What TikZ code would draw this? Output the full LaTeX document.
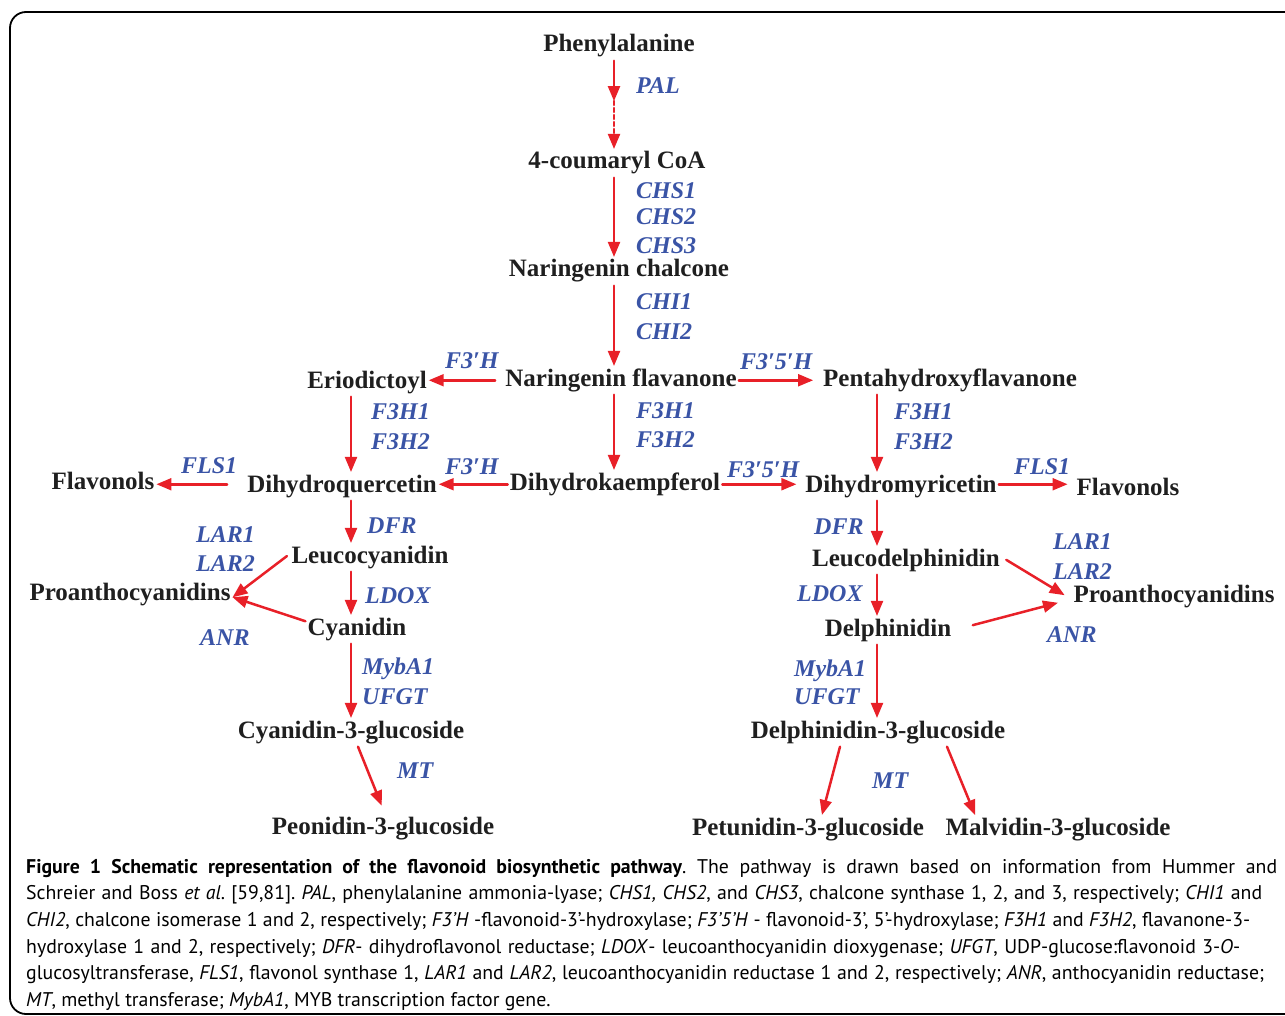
\documentclass[tikz,border=0pt]{standalone}
\usepackage{fontspec}
\setmainfont{Liberation Serif}
\newfontfamily\capfont{PT Sans}
\usepackage{tikz}
\usetikzlibrary{arrows}
\definecolor{pathred}{RGB}{232,32,40}
\definecolor{geneblue}{RGB}{58,84,166}

\begin{document}
\frenchspacing
\begin{tikzpicture}[line cap=round,line join=round,>=triangle 45,x=1pt,y=-1pt,
  compound/.style={anchor=base,inner xsep=2pt,inner ysep=3pt,text height=17pt,text depth=5.5pt,font=\fontsize{25}{30}\selectfont\bfseries,text=black!88},
  gene/.style={anchor=base west,inner sep=0pt,font=\fontsize{24}{28}\selectfont\bfseries\itshape,text=geneblue},
  flux/.style={->,draw=pathred,line width=2.5pt},
  legend/.style={anchor=north west,inner sep=0pt,align=left,font=\capfont\fontsize{19.8}{26.6}\selectfont}]
\clip (0,0) rectangle (1285,1016);
\useasboundingbox (0,0) rectangle (1285,1016);
\draw [line width=1.8pt,rounded corners=16pt] (10,12) rectangle (1320,1014);
% columns of the vertical arrows
\coordinate (colL) at (351,0);
\coordinate (colM) at (614,0);
\coordinate (colR) at (877,0);
\coordinate (pal1) at (614,101);
% compounds
\node[compound] (phe) at (619,52) {Phenylalanine};
\node[compound] (coa) at (617,169) {4-coumaryl CoA};
\node[compound] (chal) at (619,277) {Naringenin chalcone};
\node[compound] (nf) at (621,386) {Naringenin flavanone};
\node[compound] (erio) at (367,388) {Eriodictoyl};
\node[compound] (penta) at (950,386) {Pentahydroxyflavanone};
\node[compound] (dhq) at (342,492) {Dihydroquercetin};
\node[compound] (dhk) at (615,490) {Dihydrokaempferol};
\node[compound] (dhm) at (901,492) {Dihydromyricetin};
\node[compound] (flavL) at (103,489) {Flavonols};
\node[compound] (flavR) at (1128,495) {Flavonols};
\node[compound] (leucy) at (370,563) {Leucocyanidin};
\node[compound] (cyan) at (357,635) {Cyanidin};
\node[compound] (proL) at (130,600) {Proanthocyanidins};
\node[compound] (c3g) at (351,738) {Cyanidin-3-glucoside};
\node[compound] (peo) at (383,834) {Peonidin-3-glucoside};
\node[compound] (leudel) at (906,566) {Leucodelphinidin};
\node[compound] (delph) at (888,636) {Delphinidin};
\node[compound] (proR) at (1174,602) {Proanthocyanidins};
\node[compound] (d3g) at (878,738) {Delphinidin-3-glucoside};
\node[compound] (petu) at (808,835) {Petunidin-3-glucoside};
\node[compound] (malv) at (1058,835) {Malvidin-3-glucoside};
% genes
\node[gene] (pal) at (636,94) {PAL};
\node[gene] (chs1) at (636,199) {CHS1};
\node[gene] (chs2) at (636,225) {CHS2};
\node[gene] (chs3) at (636,254) {CHS3};
\node[gene] (chi1) at (636,309) {CHI1};
\node[gene] (chi2) at (636,339) {CHI2};
\node[gene] (f3hA) at (445,368) {F3′H};
\node[gene] (f35hA) at (740,369) {F3′5′H};
\node[gene] (f3h1L) at (371,419) {F3H1};
\node[gene] (f3h2L) at (371,449) {F3H2};
\node[gene] (f3h1M) at (636,418) {F3H1};
\node[gene] (f3h2M) at (636,447) {F3H2};
\node[gene] (f3h1R) at (894,419) {F3H1};
\node[gene] (f3h2R) at (894,449) {F3H2};
\node[gene] (f3hB) at (445,474) {F3′H};
\node[gene] (f35hB) at (727,477) {F3′5′H};
\node[gene] (fls1L) at (181,473) {FLS1};
\node[gene] (fls1R) at (1014,474) {FLS1};
\node[gene] (dfrL) at (367,533) {DFR};
\node[gene] (ldoxL) at (365,603) {LDOX};
\node[gene] (lar1L) at (196,542) {LAR1};
\node[gene] (lar2L) at (196,571) {LAR2};
\node[gene] (anrL) at (200,645) {ANR};
\node[gene] (mybL) at (362,674) {MybA1};
\node[gene] (ufgtL) at (362,704) {UFGT};
\node[gene] (mtL) at (397,778) {MT};
\node[gene] (dfrR) at (814,534) {DFR};
\node[gene] (ldoxR) at (797,601) {LDOX};
\node[gene] (lar1R) at (1053,549) {LAR1};
\node[gene] (lar2R) at (1053,579) {LAR2};
\node[gene] (anrR) at (1047,642) {ANR};
\node[gene] (mybR) at (794,676) {MybA1};
\node[gene] (ufgtR) at (794,704) {UFGT};
\node[gene] (mtR) at (872,788) {MT};
% main column
\draw [flux] (phe.south -| pal1) -- (pal1);
\draw [flux,dash pattern=on 4pt off 3pt] (pal1) -- (coa.north -| pal1);
\draw [flux] (coa.south -| colM) -- (chal.north -| colM);
\draw [flux] (chal.south -| colM) -- (nf.north -| colM);
\draw [flux] (nf.south -| colM) -- (dhk.north -| colM);
\draw [flux,shorten <=8pt] (nf.west) -- (nf.west -| erio.east);
\draw [flux,shorten >=8pt] (nf.east) -- (nf.east -| penta.west);
\draw [flux] (dhk.west) -- (dhk.west -| dhq.east);
\draw [flux,shorten >=7pt] (dhk.east) -- (dhk.east -| dhm.west);
\draw [flux,shorten <=18pt] ([yshift=2pt]dhq.west) -- ([yshift=2pt]dhq.west -| flavL.east);
\draw [flux,shorten >=7pt] ([yshift=2pt]dhm.east) -- ([yshift=2pt]dhm.east -| flavR.west);
% left branch
\draw [flux] (erio.south -| colL) -- (dhq.north -| colL);
\draw [flux] (dhq.south -| colL) -- (leucy.north -| colL);
\draw [flux] (leucy.south -| colL) -- (cyan.north -| colL);
\draw [flux] (cyan.south -| colL) -- (c3g.north -| colL);
\draw [flux,shorten <=3pt] ([yshift=3pt]leucy.west) -- ([yshift=-3pt]proL.east);
\draw [flux] ([yshift=8pt]cyan.west) -- ([yshift=-3pt]proL.east);
\draw [flux,shorten >=9pt] ([xshift=7pt]c3g.south) -- ([xshift=2pt]peo.north);
% right branch
\draw [flux] (penta.south -| colR) -- (dhm.north -| colR);
\draw [flux] (dhm.south -| colR) -- (leudel.north -| colR);
\draw [flux] (leudel.south -| colR) -- (delph.north -| colR);
\draw [flux] (delph.south -| colR) -- (d3g.north -| colR);
\draw [flux,shorten <=5pt,shorten >=8pt] ([yshift=3pt]leudel.east) -- ([yshift=-3pt]proR.west);
\draw [flux,shorten <=20pt,shorten >=14pt] (delph.east) -- ([yshift=-3pt]proR.west);
\draw [flux] ([xshift=-38pt]d3g.south) -- ([xshift=14pt]petu.north);
\draw [flux] ([xshift=69pt]d3g.south) -- ([xshift=-83pt]malv.north);
% legend
\node[legend] (caption) at (26,859) {\makebox[1251pt][s]{\textbf{Figure 1 Schematic representation of the flavonoid biosynthetic pathway}. The pathway is drawn based on information from Hummer and}\\
\makebox[1236pt][s]{Schreier and Boss \textit{et al}. [59,81]. \textit{PAL}, phenylalanine ammonia-lyase; \textit{CHS1, CHS2}, and \textit{CHS3}, chalcone synthase 1, 2, and 3, respectively; \textit{CHI1} and}\\
\makebox[1224pt][s]{\textit{CHI2}, chalcone isomerase 1 and 2, respectively; \textit{F3’H} -flavonoid-3’-hydroxylase; \textit{F3’5’H} - flavonoid-3’, 5’-hydroxylase; \textit{F3H1} and \textit{F3H2}, flavanone-3-}\\
\makebox[1214pt][s]{hydroxylase 1 and 2, respectively; \textit{DFR}- dihydroflavonol reductase; \textit{LDOX}- leucoanthocyanidin dioxygenase; \textit{UFGT}, UDP-glucose:flavonoid 3-\textit{O}-}\\
\makebox[1238pt][s]{glucosyltransferase, \textit{FLS1}, flavonol synthase 1, \textit{LAR1} and \textit{LAR2}, leucoanthocyanidin reductase 1 and 2, respectively; \textit{ANR}, anthocyanidin reductase;}\\
\textit{MT}, methyl transferase; \textit{MybA1}, MYB transcription factor gene.};
\end{tikzpicture}
\end{document}
